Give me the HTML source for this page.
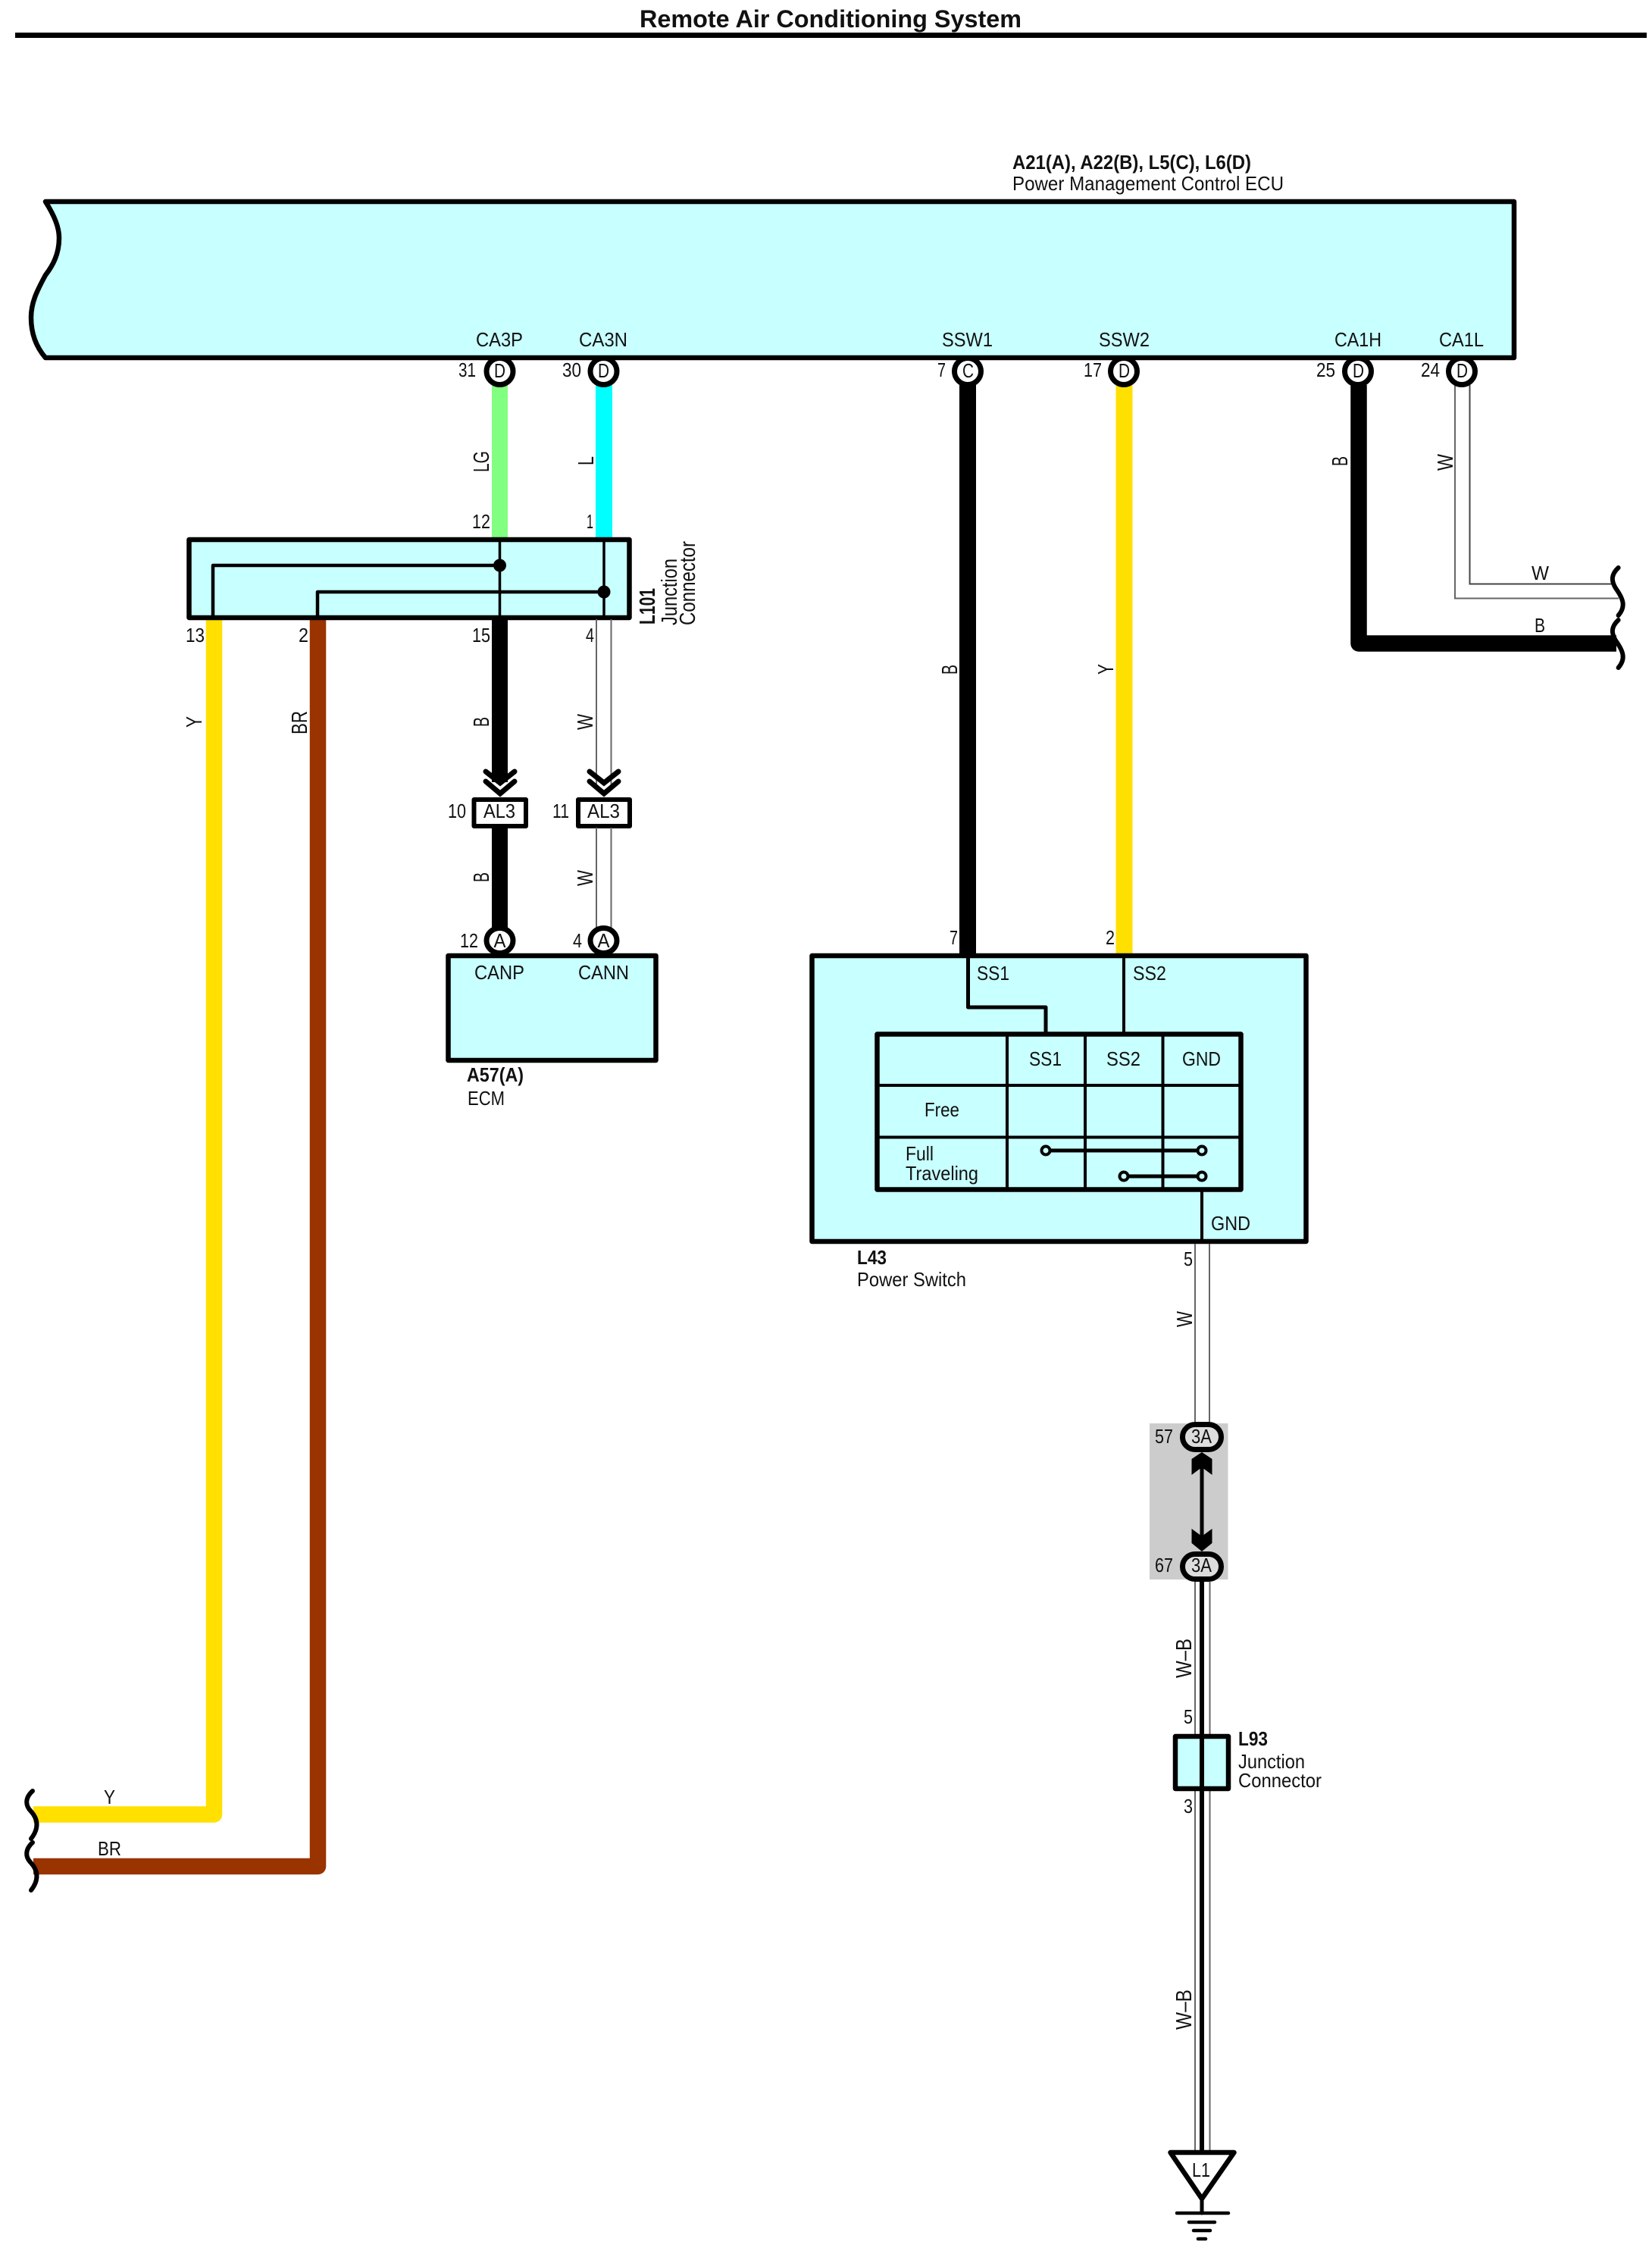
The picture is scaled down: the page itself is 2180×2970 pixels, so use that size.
<!DOCTYPE html>
<html lang="en">
<head>
<meta charset="utf-8">
<title>Remote Air Conditioning System</title>
<style>
html,body{margin:0;padding:0;background:#fff}
svg{display:block}
text{font-family:"Liberation Sans",sans-serif;font-size:26px;fill:#111}
.b{font-weight:bold}
.r{font-size:29px}
.box{fill:#c8ffff;stroke:#000;stroke-width:6.5;stroke-linejoin:round}
.ln{fill:none;stroke:#000;stroke-linejoin:round}
.g{fill:none;stroke:#666;stroke-width:2}
.pin{fill:#fff;stroke:#000;stroke-width:7}
.sq{fill:none;stroke:#000;stroke-width:6;stroke-linecap:round}
.ch{fill:none;stroke:#000;stroke-width:7;stroke-linecap:round;stroke-linejoin:miter}
</style>
</head>
<body>
<svg xmlns="http://www.w3.org/2000/svg" width="2180" height="2970" viewBox="0 0 2180 2970">
<rect width="2180" height="2970" fill="#fff"/>

<!-- Title -->
<text class="b" x="844" y="36" style="font-size:32px" textLength="504" lengthAdjust="spacingAndGlyphs">Remote Air Conditioning System</text>
<rect x="20" y="43" width="2153" height="7" fill="#000"/>

<!-- Wires from ECU -->
<rect x="649" y="508" width="21" height="204" fill="#80ff80"/>
<rect x="786" y="508" width="22" height="204" fill="#00ffff"/>
<rect x="1266" y="508" width="22" height="752" fill="#000"/>
<rect x="1472.5" y="508" width="22" height="752" fill="#ffe000"/>
<path d="M1793 508 V849 H2133" fill="none" stroke="#000" stroke-width="21.5" stroke-linejoin="round"/>
<path class="g" d="M1920 508 V789.5 H2136"/>
<path class="g" d="M1939.5 508 V770.5 H2132" style="stroke:#444"/>
<path class="sq" d="M2135.6 749 C2126 758 2126 766 2132 776 C2142 790 2146 800 2135.6 812"/>
<path class="sq" d="M2135.6 818 C2126 827 2126 835 2132 845 C2142 859 2146 869 2135.6 881"/>

<!-- ECU pins, then the ECU body over them -->
<g class="pin">
<circle cx="659.5" cy="490" r="17.5"/>
<circle cx="796.5" cy="490" r="17.5"/>
<circle cx="1277" cy="490" r="17.5"/>
<circle cx="1483" cy="490" r="17.5"/>
<circle cx="1792" cy="490" r="17.5"/>
<circle cx="1929" cy="490" r="17.5"/>
</g>
<path class="box" d="M60 266 H1998 V472 H60 C48 458 41 440 41 419 C41 400 48 385 60 363 C70 350 78 335 78 314 C78 300 72 285 60 266 Z"/>

<!-- ECU text -->
<text class="b" x="1336" y="223" textLength="315" lengthAdjust="spacingAndGlyphs">A21(A), A22(B), L5(C), L6(D)</text>
<text x="1336" y="251" textLength="358" lengthAdjust="spacingAndGlyphs">Power Management Control ECU</text>
<text x="628" y="457" textLength="62" lengthAdjust="spacingAndGlyphs">CA3P</text>
<text x="764" y="457" textLength="64" lengthAdjust="spacingAndGlyphs">CA3N</text>
<text x="1243" y="457" textLength="67" lengthAdjust="spacingAndGlyphs">SSW1</text>
<text x="1450" y="457" textLength="67" lengthAdjust="spacingAndGlyphs">SSW2</text>
<text x="1761" y="457" textLength="62" lengthAdjust="spacingAndGlyphs">CA1H</text>
<text x="1899" y="457" textLength="59" lengthAdjust="spacingAndGlyphs">CA1L</text>
<text x="605" y="497" textLength="23" lengthAdjust="spacingAndGlyphs">31</text>
<text x="742" y="497" textLength="25" lengthAdjust="spacingAndGlyphs">30</text>
<text x="1237" y="497" textLength="11" lengthAdjust="spacingAndGlyphs">7</text>
<text x="1430" y="497" textLength="24" lengthAdjust="spacingAndGlyphs">17</text>
<text x="1737" y="497" textLength="25" lengthAdjust="spacingAndGlyphs">25</text>
<text x="1875" y="497" textLength="25" lengthAdjust="spacingAndGlyphs">24</text>
<text x="652" y="498" textLength="15" lengthAdjust="spacingAndGlyphs">D</text>
<text x="789" y="498" textLength="15" lengthAdjust="spacingAndGlyphs">D</text>
<text x="1270" y="498" textLength="15" lengthAdjust="spacingAndGlyphs">C</text>
<text x="1476" y="498" textLength="15" lengthAdjust="spacingAndGlyphs">D</text>
<text x="1785" y="498" textLength="15" lengthAdjust="spacingAndGlyphs">D</text>
<text x="1922" y="498" textLength="15" lengthAdjust="spacingAndGlyphs">D</text>

<text class="r" transform="translate(645,623) rotate(-90)" textLength="28" lengthAdjust="spacingAndGlyphs">LG</text>
<text class="r" transform="translate(783,614) rotate(-90)" textLength="12" lengthAdjust="spacingAndGlyphs">L</text>
<text class="r" transform="translate(1778,615) rotate(-90)" textLength="13" lengthAdjust="spacingAndGlyphs">B</text>
<text class="r" transform="translate(1917,621) rotate(-90)" textLength="22" lengthAdjust="spacingAndGlyphs">W</text>
<text x="2021" y="765" textLength="23" lengthAdjust="spacingAndGlyphs">W</text>
<text x="2025" y="834" textLength="14" lengthAdjust="spacingAndGlyphs">B</text>
<text class="r" transform="translate(1263,890) rotate(-90)" textLength="13" lengthAdjust="spacingAndGlyphs">B</text>
<text class="r" transform="translate(1469,890) rotate(-90)" textLength="14" lengthAdjust="spacingAndGlyphs">Y</text>

<!-- Left long wires -->
<path d="M282.5 815 V2394 H44" fill="none" stroke="#ffe000" stroke-width="21.5" stroke-linejoin="round"/>
<path d="M419.5 815 V2462.5 H44" fill="none" stroke="#993300" stroke-width="21.5" stroke-linejoin="round"/>
<path class="sq" d="M43 2363 C33 2372 33 2382 41 2390 C50 2400 52 2412 41 2426"/>
<path class="sq" d="M43 2431 C33 2440 33 2450 41 2458 C50 2468 52 2480 41 2494"/>
<text x="137" y="2380" textLength="15" lengthAdjust="spacingAndGlyphs">Y</text>
<text x="129" y="2448" textLength="31" lengthAdjust="spacingAndGlyphs">BR</text>

<!-- L101 -->
<rect class="box" x="249.5" y="712" width="581" height="103"/>
<path class="ln" stroke-width="4.5" d="M281 813 V746 H659"/>
<path class="ln" stroke-width="4.5" d="M419 813 V781 H797"/>
<path class="ln" stroke-width="3.5" d="M659.5 712 V815 M797 712 V815"/>
<circle cx="659.5" cy="746" r="8.5" fill="#000"/>
<circle cx="797" cy="781" r="8.5" fill="#000"/>
<text x="623" y="697" textLength="24" lengthAdjust="spacingAndGlyphs">12</text>
<text x="774" y="697" textLength="9" lengthAdjust="spacingAndGlyphs">1</text>
<text x="245" y="847" textLength="25" lengthAdjust="spacingAndGlyphs">13</text>
<text x="394" y="847" textLength="13" lengthAdjust="spacingAndGlyphs">2</text>
<text x="623" y="847" textLength="24" lengthAdjust="spacingAndGlyphs">15</text>
<text x="773" y="847" textLength="11" lengthAdjust="spacingAndGlyphs">4</text>
<text class="r b" transform="translate(864,824) rotate(-90)" textLength="48" lengthAdjust="spacingAndGlyphs">L101</text>
<text class="r" transform="translate(893,825) rotate(-90)" textLength="88" lengthAdjust="spacingAndGlyphs">Junction</text>
<text class="r" transform="translate(917,825) rotate(-90)" textLength="111" lengthAdjust="spacingAndGlyphs">Connector</text>
<text class="r" transform="translate(266,960) rotate(-90)" textLength="15" lengthAdjust="spacingAndGlyphs">Y</text>
<text class="r" transform="translate(405,969) rotate(-90)" textLength="31" lengthAdjust="spacingAndGlyphs">BR</text>
<text class="r" transform="translate(645,959) rotate(-90)" textLength="13" lengthAdjust="spacingAndGlyphs">B</text>
<text class="r" transform="translate(782,963) rotate(-90)" textLength="21" lengthAdjust="spacingAndGlyphs">W</text>

<!-- Wires L101 to ECM -->
<rect x="649" y="817" width="21" height="215" fill="#000"/>
<path class="g" d="M787 817 V1035 M806.5 817 V1035"/>
<path class="ch" d="M641 1018 L660 1033 L679 1018"/>
<path class="ch" d="M641 1031 L660 1047 L679 1031"/>
<path class="ch" d="M778 1018 L797 1033 L816 1018"/>
<path class="ch" d="M778 1031 L797 1047 L816 1031"/>
<rect x="625.5" y="1055" width="68.5" height="35" fill="#fff" stroke="#000" stroke-width="6" stroke-linejoin="round"/>
<rect x="763" y="1055" width="68" height="35" fill="#fff" stroke="#000" stroke-width="6" stroke-linejoin="round"/>
<text x="638" y="1079" textLength="42" lengthAdjust="spacingAndGlyphs">AL3</text>
<text x="775" y="1079" textLength="43" lengthAdjust="spacingAndGlyphs">AL3</text>
<text x="591" y="1079" textLength="24" lengthAdjust="spacingAndGlyphs">10</text>
<text x="729" y="1079" textLength="22" lengthAdjust="spacingAndGlyphs">11</text>
<rect x="649" y="1092" width="21" height="135" fill="#000"/>
<path class="g" d="M787 1092 V1228 M806.5 1092 V1228"/>
<text class="r" transform="translate(645,1164) rotate(-90)" textLength="13" lengthAdjust="spacingAndGlyphs">B</text>
<text class="r" transform="translate(782,1169) rotate(-90)" textLength="21" lengthAdjust="spacingAndGlyphs">W</text>

<!-- ECM -->
<g class="pin">
<ellipse cx="659.5" cy="1241" rx="17.5" ry="16.5"/>
<ellipse cx="796.5" cy="1241" rx="17.5" ry="16.5"/>
</g>
<rect class="box" x="591.5" y="1261" width="274" height="138"/>
<text x="651.5" y="1250" textLength="16" lengthAdjust="spacingAndGlyphs">A</text>
<text x="788.5" y="1250" textLength="16" lengthAdjust="spacingAndGlyphs">A</text>
<text x="607" y="1250" textLength="24" lengthAdjust="spacingAndGlyphs">12</text>
<text x="756" y="1250" textLength="12" lengthAdjust="spacingAndGlyphs">4</text>
<text x="626" y="1292" textLength="66" lengthAdjust="spacingAndGlyphs">CANP</text>
<text x="763" y="1292" textLength="67" lengthAdjust="spacingAndGlyphs">CANN</text>
<text class="b" x="616" y="1427" textLength="75" lengthAdjust="spacingAndGlyphs">A57(A)</text>
<text x="617" y="1458" textLength="49" lengthAdjust="spacingAndGlyphs">ECM</text>

<!-- L43 -->
<rect class="box" x="1071.5" y="1261" width="652" height="377"/>
<path class="ln" stroke-width="5" d="M1277.5 1261 V1329 H1380 V1364"/>
<path class="ln" stroke-width="4" d="M1483 1261 V1364"/>
<rect class="box" x="1157.5" y="1364.5" width="480" height="205"/>
<path class="ln" stroke-width="4" d="M1329 1364 V1570 M1432 1364 V1570 M1534.5 1364 V1570 M1157 1432 H1638 M1157 1500.5 H1638"/>
<path class="ln" stroke-width="5" d="M1380 1518 H1586 M1483 1552 H1586"/>
<g fill="#c8ffff" stroke="#000" stroke-width="4">
<circle cx="1380" cy="1518" r="5.5"/>
<circle cx="1586" cy="1518" r="5.5"/>
<circle cx="1483" cy="1552" r="5.5"/>
<circle cx="1586" cy="1552" r="5.5"/>
</g>
<path class="ln" stroke-width="4" d="M1586 1572 V1640"/>
<text x="1253" y="1246" textLength="11" lengthAdjust="spacingAndGlyphs">7</text>
<text x="1459" y="1246" textLength="12" lengthAdjust="spacingAndGlyphs">2</text>
<text x="1289" y="1293" textLength="43" lengthAdjust="spacingAndGlyphs">SS1</text>
<text x="1495" y="1293" textLength="44" lengthAdjust="spacingAndGlyphs">SS2</text>
<text x="1358" y="1406" textLength="43" lengthAdjust="spacingAndGlyphs">SS1</text>
<text x="1460" y="1406" textLength="45" lengthAdjust="spacingAndGlyphs">SS2</text>
<text x="1560" y="1406" textLength="51" lengthAdjust="spacingAndGlyphs">GND</text>
<text x="1220" y="1473" textLength="46" lengthAdjust="spacingAndGlyphs">Free</text>
<text x="1195" y="1531" textLength="37" lengthAdjust="spacingAndGlyphs">Full</text>
<text x="1195" y="1557" textLength="96" lengthAdjust="spacingAndGlyphs">Traveling</text>
<text x="1598" y="1623" textLength="52" lengthAdjust="spacingAndGlyphs">GND</text>
<text class="b" x="1131" y="1668" textLength="39" lengthAdjust="spacingAndGlyphs">L43</text>
<text x="1131" y="1697" textLength="144" lengthAdjust="spacingAndGlyphs">Power Switch</text>

<!-- Ground wire -->
<text x="1562" y="1670" textLength="12" lengthAdjust="spacingAndGlyphs">5</text>
<path class="g" d="M1577 1641 V1880 M1596 1641 V1880"/>
<text class="r" transform="translate(1573,1751) rotate(-90)" textLength="21" lengthAdjust="spacingAndGlyphs">W</text>

<rect x="1517" y="1878" width="103.5" height="206" fill="#ccc"/>
<rect x="1560.5" y="1879.5" width="51" height="33" rx="16.5" ry="16.5" fill="#ddd" stroke="#000" stroke-width="7"/>
<rect x="1560.5" y="2050.5" width="51" height="33" rx="16.5" ry="16.5" fill="#ddd" stroke="#000" stroke-width="7"/>
<text x="1572" y="1904" textLength="27" lengthAdjust="spacingAndGlyphs">3A</text>
<text x="1572" y="2074" textLength="27" lengthAdjust="spacingAndGlyphs">3A</text>
<text x="1524" y="1904" textLength="24" lengthAdjust="spacingAndGlyphs">57</text>
<text x="1524" y="2074" textLength="24" lengthAdjust="spacingAndGlyphs">67</text>
<rect x="1583.5" y="1920" width="5" height="125" fill="#000"/>
<polygon points="1586,1916 1599.5,1925 1599.5,1946 1586,1936 1572.5,1946 1572.5,1925" fill="#000"/>
<polygon points="1572.5,2017 1586,2027 1599.5,2017 1599.5,2036 1586,2047 1572.5,2036" fill="#000"/>

<path class="g" d="M1577 2087 V2838 M1596.5 2087 V2838"/>
<rect x="1583" y="2087" width="6" height="755" fill="#000"/>
<text class="r" transform="translate(1572,2214) rotate(-90)" textLength="52" lengthAdjust="spacingAndGlyphs">W–B</text>
<text class="r" transform="translate(1572,2678) rotate(-90)" textLength="53" lengthAdjust="spacingAndGlyphs">W–B</text>
<text x="1562" y="2274" textLength="12" lengthAdjust="spacingAndGlyphs">5</text>
<text x="1562" y="2392" textLength="12" lengthAdjust="spacingAndGlyphs">3</text>

<!-- L93 -->
<rect class="box" x="1551" y="2291" width="70" height="69"/>
<rect x="1583" y="2290" width="6" height="71" fill="#000"/>
<text class="b" x="1634" y="2303" textLength="39" lengthAdjust="spacingAndGlyphs">L93</text>
<text x="1634" y="2333" textLength="88" lengthAdjust="spacingAndGlyphs">Junction</text>
<text x="1634" y="2358" textLength="110" lengthAdjust="spacingAndGlyphs">Connector</text>

<!-- Ground -->
<path d="M1544.5 2840 H1628.5 L1586 2901 Z" fill="#fff" stroke="#000" stroke-width="6.5" stroke-linejoin="round"/>
<text x="1573" y="2872" textLength="24" lengthAdjust="spacingAndGlyphs">L1</text>
<g stroke="#000" stroke-linecap="round" fill="none">
<path stroke-width="5" d="M1586 2903 V2920"/>
<path stroke-width="4.5" d="M1553 2920 H1621 M1569 2932 H1603 M1575 2943 H1597 M1581 2954 H1591"/>
</g>
</svg>
</body>
</html>
